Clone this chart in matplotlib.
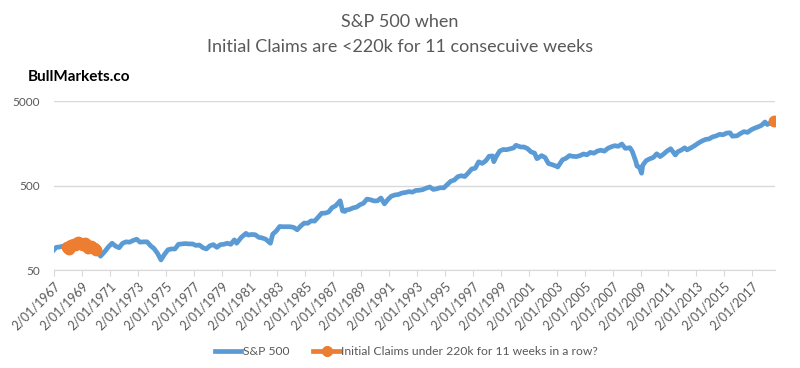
import numpy as np
import pandas as pd
import matplotlib
matplotlib.use("Agg")
import matplotlib.pyplot as plt
from matplotlib.lines import Line2D

plt.rcParams['font.family'] = ['Lato', 'DejaVu Sans']

# --- S&P 500 (approx. quarterly, plus a few extremes) ---
SPX_DATES = [
    "1967-02", "1967-04", "1967-07", "1967-10",
    "1968-01", "1968-04", "1968-07", "1968-10", "1968-12",
    "1969-01", "1969-04", "1969-07", "1969-10",
    "1970-01", "1970-04", "1970-06", "1970-10",
    "1971-01", "1971-04", "1971-07", "1971-10",
    "1972-01", "1972-04", "1972-07", "1972-10", "1973-01",
    "1973-04", "1973-07", "1973-10",
    "1974-01", "1974-04", "1974-07", "1974-10",
    "1975-01", "1975-04", "1975-07", "1975-10",
    "1976-01", "1976-04", "1976-07", "1976-10",
    "1977-01", "1977-04", "1977-07", "1977-10",
    "1978-01", "1978-04", "1978-07", "1978-10",
    "1979-01", "1979-04", "1979-07", "1979-10",
    "1980-01", "1980-03", "1980-07", "1980-11",
    "1981-01", "1981-04", "1981-07", "1981-10",
    "1982-01", "1982-04", "1982-08", "1982-10",
    "1983-01", "1983-04", "1983-07", "1983-10",
    "1984-01", "1984-04", "1984-07", "1984-10",
    "1985-01", "1985-04", "1985-07", "1985-10",
    "1986-01", "1986-04", "1986-07", "1986-10",
    "1987-01", "1987-04", "1987-08", "1987-10", "1987-12",
    "1988-01", "1988-04", "1988-07", "1988-10",
    "1989-01", "1989-04", "1989-07", "1989-10",
    "1990-01", "1990-04", "1990-07", "1990-10",
    "1991-01", "1991-04", "1991-07", "1991-10",
    "1992-01", "1992-04", "1992-07", "1992-10",
    "1993-01", "1993-04", "1993-07", "1993-10",
    "1994-01", "1994-04", "1994-07", "1994-10",
    "1995-01", "1995-04", "1995-07", "1995-10",
    "1996-01", "1996-04", "1996-07", "1996-10",
    "1997-01", "1997-04", "1997-07", "1997-10",
    "1998-01", "1998-04", "1998-07", "1998-08", "1998-10",
    "1999-01", "1999-04", "1999-07", "1999-10",
    "2000-01", "2000-03", "2000-07", "2000-10",
    "2001-01", "2001-04", "2001-07", "2001-09", "2001-10",
    "2002-01", "2002-04", "2002-07", "2002-10",
    "2003-01", "2003-03", "2003-07", "2003-10",
    "2004-01", "2004-04", "2004-07", "2004-10",
    "2005-01", "2005-04", "2005-07", "2005-10",
    "2006-01", "2006-04", "2006-07", "2006-10",
    "2007-01", "2007-04", "2007-07", "2007-10",
    "2008-01", "2008-05", "2008-07", "2008-10", "2008-11",
    "2009-01", "2009-03", "2009-04", "2009-07", "2009-10",
    "2010-01", "2010-04", "2010-07", "2010-10",
    "2011-01", "2011-04", "2011-08", "2011-10",
    "2012-01", "2012-04", "2012-06", "2012-10",
    "2013-01", "2013-04", "2013-07", "2013-10",
    "2014-01", "2014-04", "2014-07", "2014-10",
    "2015-01", "2015-04", "2015-07", "2015-09",
    "2016-01", "2016-04", "2016-07", "2016-10",
    "2017-01", "2017-04", "2017-07", "2017-10",
    "2018-01", "2018-03", "2018-07", "2018-09",
]
SPX_VALUES = [
    87, 93, 94, 96,
    95, 92, 101, 103, 106,
    103, 102, 92, 97,
    85, 82, 73, 84,
    95, 104, 96, 92,
    104, 108, 107, 112, 116,
    107, 108, 108,
    97, 90, 79, 66,
    77, 87, 89, 89,
    101, 102, 103, 102,
    102, 98, 99, 92,
    89, 97, 100, 93,
    100, 101, 104, 101,
    114, 104, 122, 136,
    130, 132, 131, 122,
    120, 116, 104, 133,
    145, 164, 163, 163,
    163, 160, 150, 166,
    180, 179, 191, 190,
    211, 235, 236, 243,
    274, 288, 330, 251, 247,
    257, 261, 272, 278,
    297, 309, 346, 340,
    329, 330, 356, 304,
    343, 375, 387, 392,
    408, 414, 424, 418,
    438, 440, 448, 467,
    481, 450, 458, 472,
    470, 514, 562, 581,
    636, 654, 639, 705,
    786, 801, 954, 914,
    980, 1111, 1120, 957, 1098,
    1279, 1335, 1328, 1362,
    1394, 1498, 1430, 1429,
    1366, 1249, 1211, 1040, 1059,
    1130, 1076, 911, 885,
    855, 830, 1008, 1050,
    1131, 1107, 1101, 1130,
    1181, 1156, 1234, 1207,
    1280, 1310, 1276, 1377,
    1438, 1482, 1455, 1549,
    1378, 1400, 1267, 968, 850,
    826, 700, 872, 987, 1036,
    1074, 1187, 1101, 1183,
    1286, 1363, 1150, 1253,
    1312, 1398, 1320, 1412,
    1498, 1597, 1685, 1756,
    1782, 1883, 1931, 2018,
    1995, 2086, 2104, 1920,
    1940, 2065, 2173, 2126,
    2279, 2384, 2470, 2575,
    2824, 2640, 2816, 2890,
]

# --- weeks with initial claims < 220k for 11 weeks in a row ---
SIG_DATES = [
    "1968-01", "1968-02", "1968-03", "1968-04", "1968-05", "1968-06",
    "1968-07", "1968-08", "1968-09", "1968-10", "1968-11", "1968-12",
    "1969-01", "1969-02", "1969-03", "1969-04", "1969-05", "1969-06",
    "1969-07", "1969-08", "1969-09", "1969-10", "1969-11", "1969-12",
    "1970-01", "1970-02",
    "2018-09",
]
SIG_VALUES = [
    95, 92, 90, 96, 99, 100,
    101, 98, 102, 103, 107, 106,
    103, 101, 100, 103, 104, 98,
    92, 95, 94, 97, 95, 92,
    88, 86,
    2890,
]

TICK_YEARS = list(range(1967, 2018, 2))

BLUE = "#5B9BD5"
ORANGE = "#ED7D31"
GREY = "#595959"

spx_x = pd.to_datetime(SPX_DATES)
sig_x = pd.to_datetime(SIG_DATES)

fig = plt.figure(figsize=(8.0, 3.68), dpi=100)
ax = fig.add_axes([0.0675, 0.266, 0.9015, 0.4595])

ax.plot(spx_x, SPX_VALUES, color=BLUE, lw=3.4, solid_joinstyle="round", zorder=2)
ax.plot(sig_x, SIG_VALUES, ls="none", marker="o", ms=7.5, color=ORANGE,
        mec=ORANGE, zorder=3)

ax.set_yscale("log")
ax.set_ylim(50, 5000)
ax.set_yticks([50, 500, 5000])
ax.set_yticklabels(["50", "500", "5000"])
ax.yaxis.set_minor_locator(matplotlib.ticker.NullLocator())
ax.tick_params(axis="y", length=0, labelsize=8.5, colors=GREY, pad=10)
ax.grid(axis="y", color="#D9D9D9", lw=1)
ax.set_axisbelow(True)

ticks = pd.to_datetime([f"{y}-02-01" for y in TICK_YEARS])
ax.set_xticks(ticks)
ax.set_xticklabels([f"2/01/{y}" for y in TICK_YEARS], rotation=45,
                   ha="right", va="top", rotation_mode="anchor")
ax.tick_params(axis="x", length=4, color="#D9D9D9", labelsize=9,
               labelcolor=GREY, pad=3)
ax.set_xlim(pd.Timestamp("1967-02-01"), pd.Timestamp("2018-09-25"))

for s in ("top", "right", "left"):
    ax.spines[s].set_visible(False)
ax.spines["bottom"].set_color("#D9D9D9")

fig.text(0.5, 0.940, "S&P 500 when", ha="center", va="center",
         fontsize=13, color=GREY)
fig.text(0.5, 0.872, "Initial Claims are <220k for 11 consecuive weeks",
         ha="center", va="center", fontsize=13, color=GREY)
fig.text(0.035, 0.79, "BullMarkets.co", ha="left", va="center",
         fontsize=11, fontweight="bold", color="black")

handles = [
    Line2D([], [], color=BLUE, lw=3.4),
    Line2D([], [], color=ORANGE, lw=3.4, marker="o", ms=7),
]
fig.legend(handles, ["S&P 500", "Initial Claims under 220k for 11 weeks in a row?"],
           loc="center", bbox_to_anchor=(0.508, 0.045), ncol=2, frameon=False,
           fontsize=8.7, labelcolor=GREY, handlelength=2.2, handletextpad=0.1,
           columnspacing=2.0)

fig.savefig("out.png", dpi=100)
